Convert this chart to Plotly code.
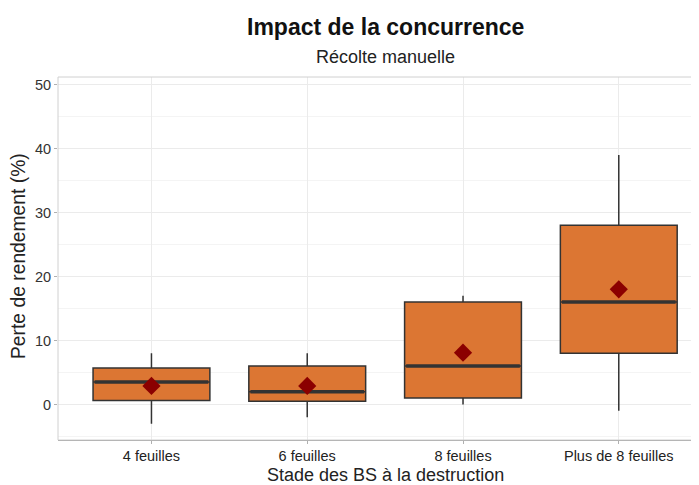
import plotly.graph_objects as go

categories = ["4 feuilles", "6 feuilles", "8 feuilles", "Plus de 8 feuilles"]
lower_whisker = [-3, -2, 0, -1]
q1 = [0.6, 0.5, 1.0, 8.0]
median = [3.5, 2.0, 6.0, 16.0]
q3 = [5.7, 6.0, 16.0, 28.0]
upper_whisker = [8, 8, 17, 39]
means = [2.9, 2.9, 8.1, 18.0]

FILL = "#DC7633"
LINE = "#333333"
BOXW = 0.75
pos = list(range(len(categories)))

fig = go.Figure()
fig.add_trace(go.Box(
    x=pos, q1=q1, median=median, q3=q3,
    lowerfence=lower_whisker, upperfence=upper_whisker,
    fillcolor=FILL, line=dict(color=LINE, width=1.5),
    width=BOXW, whiskerwidth=0, boxpoints=False, showlegend=False,
    hoverinfo="skip",
))
# thick median lines (ggplot style)
mx, my = [], []
for i, m in zip(pos, median):
    mx += [i - BOXW / 2 + 0.01, i + BOXW / 2 - 0.01, None]
    my += [m, m, None]
fig.add_trace(go.Scatter(x=mx, y=my, mode="lines",
                         line=dict(color=LINE, width=3.5), showlegend=False,
                         hoverinfo="skip"))
fig.add_trace(go.Scatter(x=pos, y=means, mode="markers",
                         marker=dict(symbol="diamond", size=14, color="#8B0000"),
                         showlegend=False))

font = "Liberation Sans, Arial, sans-serif"
# page body has an 8px margin: figure spans 8..699 x 8..485
W, H = 691, 477
ML, MT, MB = 50, 69, 45
PH = H - MT - MB          # plot height in px
PW = W - ML               # plot width in px
PB = 8 + H - MB           # plot bottom in page px (440)
PL = 8 + ML               # plot left in page px (58)

fig.update_layout(
    width=W, height=H,
    margin=dict(l=ML, r=0, t=MT, b=MB),
    plot_bgcolor="white", paper_bgcolor="white",
    font=dict(family=font, color="#222222"),
    xaxis=dict(
        range=[-0.6, 3.515], tickmode="array", tickvals=pos, ticktext=categories,
        showgrid=True, gridcolor="#ebebeb", gridwidth=1, zeroline=False,
        showline=True, linecolor="#9a9a9a", linewidth=1,
        ticks="outside", ticklen=3, tickcolor="#b0b0b0",
        tickfont=dict(size=14.5, color="#222222"),
    ),
    yaxis=dict(
        range=[-5.56, 51.2], tickmode="array", tickvals=[0, 10, 20, 30, 40, 50],
        showgrid=True, gridcolor="#ebebeb", gridwidth=1, zeroline=False,
        minor=dict(tickvals=[-5, 5, 15, 25, 35, 45], showgrid=True, gridcolor="#f4f4f4", gridwidth=1),
        showline=False,
        ticks="outside", ticklen=3, tickcolor="#b0b0b0",
        tickfont=dict(size=14.5, color="#333333"),
    ),
    shapes=[dict(type="rect", xref="paper", yref="paper", x0=0, x1=1.05, y0=0, y1=1,
                 line=dict(color="#d0d0d0", width=1), layer="above")],
    annotations=[
        dict(text="<b>Impact de la concurrence</b>", xref="paper", yref="paper",
             x=(385 - PL) / PW, y=(PB - 27) / PH, xanchor="center", yanchor="middle",
             showarrow=False, font=dict(size=23, color="#111111")),
        dict(text="Récolte manuelle", xref="paper", yref="paper",
             x=(385 - PL) / PW, y=(PB - 57) / PH, xanchor="center", yanchor="middle",
             showarrow=False, font=dict(size=18, color="#222222")),
        dict(text="Stade des BS à la destruction", xref="paper", yref="paper",
             x=(385 - PL) / PW, y=(PB - 475) / PH, xanchor="center", yanchor="middle",
             showarrow=False, font=dict(size=18, color="#222222")),
        dict(text="Perte de rendement (%)", xref="paper", yref="paper",
             x=(18 - PL) / PW, y=(PB - 256) / PH, xanchor="center", yanchor="middle",
             textangle=-90, showarrow=False, font=dict(size=19.3, color="#222222")),
    ],
)
fig.write_html("out.html")
